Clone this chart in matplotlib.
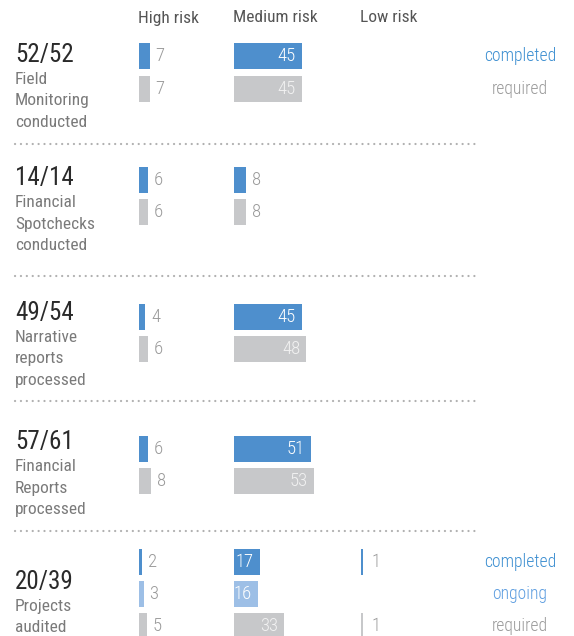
import matplotlib.pyplot as plt

plt.rcParams['font.family'] = ['Roboto Condensed', 'Roboto', 'DejaVu Sans']

# data
totals = ["52/52", "14/14", "49/54", "57/61", "20/39"]
descriptions = [
    ["Field", "Monitoring", "conducted"],
    ["Financial", "Spotchecks", "conducted"],
    ["Narrative", "reports", "processed"],
    ["Financial", "Reports", "processed"],
    ["Projects", "audited"],
]
risk_levels = ["High risk", "Medium risk", "Low risk"]
high_completed = [7, 6, 4, 6, 2]
high_required = [7, 6, 6, 8, 5]
medium_completed = [45, 8, 45, 51, 17]
medium_required = [45, 8, 48, 53, 33]
low_completed = [0, 0, 0, 0, 1]
low_required = [0, 0, 0, 0, 1]
high_ongoing = [3]
medium_ongoing = [16]
low_ongoing = [0]

# layout (pixels)
W, H = 574, 636
PX_PER_UNIT = 1.51
col_left = [139, 234, 361]
col_width = [90, 120, 110]
bar_h = 26
row_bar_y = [[56, 89], [180, 212], [317, 349], [449, 481], [562, 594, 626]]
total_base = [62, 185, 320, 449, 589]
sep_y = [144, 276, 401, 531]

BLUE = "#4e8fcd"
LIGHT_BLUE = "#9dbfe6"
GREY = "#c7c8ca"

fig = plt.figure(figsize=(W / 100, H / 100), dpi=100)
bg = fig.add_axes([0, 0, 1, 1])
bg.set_xlim(0, W)
bg.set_ylim(H, 0)
bg.axis("off")

# column headers
for i, name in enumerate(risk_levels):
    bg.text(col_left[i] - 1, 18, name, fontsize=12.5, color="#555555", va="center", ha="left")

# left labels
for r, tot in enumerate(totals):
    bg.text(15, total_base[r], tot, fontsize=18, color="#2a2a2a", va="baseline", ha="left")
    for k, line in enumerate(descriptions[r]):
        bg.text(15, total_base[r] + 22 + 21.5 * k, line, fontsize=12.5, color="#7a7a7a",
                va="baseline", ha="left")

# separators
for y in sep_y:
    bg.plot([15, 480], [y, y], color="#b0b0b0", lw=1.6, linestyle=(0, (0.05, 2.6)),
            dash_capstyle="round")

# legends
legend_x = 520
for y, txt, c in [(row_bar_y[0][0], "completed", "#3d8fd1"), (row_bar_y[0][1], "required", "#9b9b9b"),
                  (row_bar_y[4][0], "completed", "#3d8fd1"), (row_bar_y[4][1], "ongoing", "#5e9ee0"),
                  (row_bar_y[4][2], "required", "#9b9b9b")]:
    bg.text(legend_x, y, txt, fontsize=12.7, color=c, va="center", ha="center", weight="light")

columns = [
    (high_completed, high_required, high_ongoing),
    (medium_completed, medium_required, medium_ongoing),
    (low_completed, low_required, low_ongoing),
]

for i, (comp, req, ong) in enumerate(columns):
    ax = fig.add_axes([col_left[i] / W, 0, col_width[i] / W, 1])
    ax.set_xlim(0, col_width[i] / PX_PER_UNIT)
    ax.set_ylim(H, 0)
    ax.axis("off")
    for r in range(len(totals)):
        ys = row_bar_y[r]
        if r == 4:
            series = [(comp[r], BLUE, "white"), (ong[0], LIGHT_BLUE, "white"), (req[r], GREY, "#f2f2f2")]
        else:
            series = [(comp[r], BLUE, "white"), (req[r], GREY, "#f2f2f2")]
        for (v, c, inner), y in zip(series, ys):
            if v == 0:
                continue
            ax.barh(y, v, height=bar_h, color=c, left=0)
            if v >= 10:
                ax.annotate(str(v), xy=(v, y), xytext=(-6, 0), textcoords="offset pixels",
                            ha="right", va="center", fontsize=13.5, color=inner, weight="light")
            else:
                gap = 9 if v < 2 else 6
                ax.annotate(str(v), xy=(v, y), xytext=(gap, 0), textcoords="offset pixels",
                            ha="left", va="center", fontsize=13.5, color="#9a9a9a", weight="light")

fig.savefig("out.png", dpi=100)
